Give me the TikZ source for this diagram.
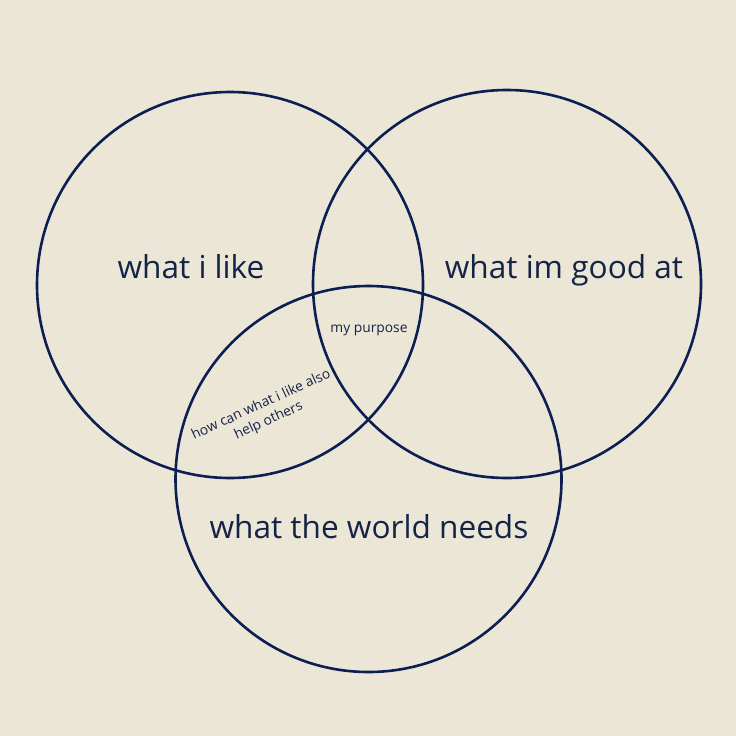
\documentclass[tikz,border=0pt]{standalone}
\usepackage{fontspec}
\setmainfont{Open Sans}
\definecolor{bg}{HTML}{ECE6D6}
\definecolor{ink}{HTML}{0C1F52}
\definecolor{txt}{HTML}{142446}
\tikzset{
  ring/.style={draw=ink, line width=2.6pt},
  big/.style={text=txt, font=\fontsize{31.6}{34}\selectfont, inner sep=0pt},
  small/.style={text=txt, font=\fontsize{13.8}{16}\selectfont, inner sep=0pt, align=center},
  tiny/.style={text=txt, font=\fontsize{13.8}{17.5}\selectfont, inner sep=0pt, align=center}
}
\begin{document}
\begin{tikzpicture}[x=1pt,y=-1pt]
\fill[bg] (0,0) rectangle (736,736);
\useasboundingbox (0,0) rectangle (736,736);
\node[ring, circle, minimum size=386pt, inner sep=0pt] (like) at (230,285) {};
\node[ring, circle, minimum size=388pt, inner sep=0pt] (good) at (507,284) {};
\node[ring, circle, minimum size=386pt, inner sep=0pt] (world) at (368.5,479) {};
\node[big, anchor=base] (tlike) at (191,278) {what i like};
\node[big, anchor=base] (tgood) at (564,278) {what im good at};
\node[big, anchor=base] (tworld) at (369,538) {what the world needs};
\node[small, anchor=base] (tpurpose) at (369,332) {my purpose};
\node[tiny, rotate=24.6] (thelp) at (265,413) {how can what i like also\\help others};
\end{tikzpicture}
\end{document}
